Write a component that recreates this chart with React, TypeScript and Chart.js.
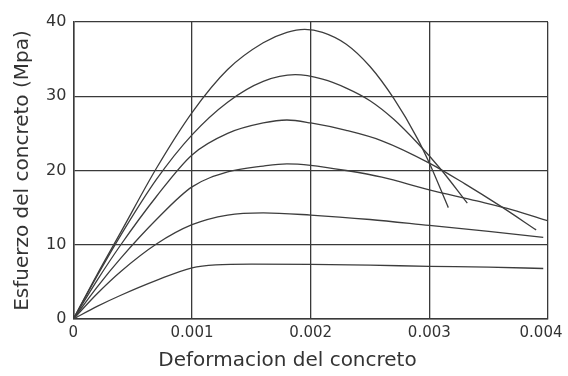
import React, { useEffect, useRef } from 'react';
import { Chart, registerables } from 'chart.js';

Chart.register(...registerables);

const X_TICK_LABELS = ['0', '0.001', '0.002', '0.003', '0.004'];
const Y_TICK_LABELS = ['0', '10', '20', '30', '40'];
const X_TITLE = 'Deformacion del concreto';
const Y_TITLE = 'Esfuerzo del concreto (Mpa)';

const STRAIN_A = [0, 0.0002, 0.0004, 0.0007, 0.001, 0.0013, 0.0016, 0.0018, 0.00195, 0.0021, 0.0023, 0.0025, 0.0027, 0.0029, 0.003, 0.00316];
const STRESS_A = [0, 6, 11.7, 20.3, 27.8, 33.6, 37.2, 38.6, 39.0, 38.6, 37.0, 34.0, 29.7, 24.3, 21.0, 15.0];

const STRAIN_B = [0, 0.0002, 0.0004, 0.0007, 0.001, 0.0013, 0.0016, 0.00187, 0.0021, 0.0023, 0.0025, 0.0027, 0.0029, 0.0031, 0.00332];
const STRESS_B = [0, 5.8, 11.3, 18.8, 24.8, 29.2, 32.0, 32.9, 32.3, 31.1, 29.4, 26.9, 23.7, 20.1, 15.6];

const STRAIN_C = [0, 0.0002, 0.0004, 0.0007, 0.001, 0.0013, 0.0016, 0.0018, 0.002, 0.0023, 0.0026, 0.003, 0.0033, 0.0036, 0.0039];
const STRESS_C = [0, 5.2, 10, 16.5, 22.1, 25.0, 26.4, 26.8, 26.4, 25.4, 24.0, 21.0, 18.2, 15.2, 12.0];

const STRAIN_D = [0, 0.0002, 0.0004, 0.0007, 0.001, 0.0013, 0.0016, 0.0018, 0.002, 0.0023, 0.0026, 0.003, 0.0034, 0.0037, 0.004];
const STRESS_D = [0, 4.3, 8.2, 13.4, 17.8, 19.8, 20.6, 20.9, 20.7, 20.0, 19.1, 17.4, 15.9, 14.7, 13.2];

const STRAIN_E = [0, 0.0002, 0.0004, 0.0007, 0.001, 0.0013, 0.0016, 0.002, 0.0025, 0.003, 0.0035, 0.00396];
const STRESS_E = [0, 3.4, 6.4, 10.1, 12.7, 14.0, 14.3, 14.0, 13.4, 12.6, 11.8, 11.0];

const STRAIN_F = [0, 0.0002, 0.0004, 0.0007, 0.001, 0.0012, 0.0015, 0.002, 0.0025, 0.003, 0.0035, 0.00396];
const STRESS_F = [0, 1.7, 3.2, 5.2, 6.9, 7.3, 7.4, 7.35, 7.25, 7.1, 7.0, 6.8];

const SERIES = [
  [STRAIN_A, STRESS_A],
  [STRAIN_B, STRESS_B],
  [STRAIN_C, STRESS_C],
  [STRAIN_D, STRESS_D],
  [STRAIN_E, STRESS_E],
  [STRAIN_F, STRESS_F],
];

const TEXT = '#333333';
const GRID = '#3a3a3a';
const FONT = 'DejaVu Sans';

// Nudges the last x tick label left so it stays inside the canvas, as in the reference.
const shiftLastXLabel = {
  id: 'shiftLastXLabel',
  beforeDraw(chart: any) {
    const scale = chart.scales.x;
    const items = scale.getLabelItems();
    const last = items[items.length - 1];
    if (last && !last._shifted) {
      last.options.translation[0] -= 7;
      last._shifted = true;
    }
  },
};

export default function App() {
  const ref = useRef<HTMLCanvasElement | null>(null);

  useEffect(() => {
    if (!ref.current) return;
    const chart = new Chart(ref.current, {
      type: 'line',
      data: {
        datasets: SERIES.map(([xs, ys]) => ({
          data: xs.map((x, i) => ({ x, y: ys[i] })),
          borderColor: '#3d3d3d',
          borderWidth: 1.3,
          pointRadius: 0,
          fill: false,
          cubicInterpolationMode: 'monotone' as const,
        })),
      },
      options: {
        animation: false,
        responsive: false,
        layout: { padding: { left: 11, top: 22, right: 4, bottom: 3 } },
        plugins: {
          legend: { display: false },
          tooltip: { enabled: false },
          title: {
            display: true,
            position: 'bottom',
            text: X_TITLE,
            color: TEXT,
            font: { family: FONT, size: 20, weight: 'normal' },
            padding: { top: 2, bottom: 0 },
          },
        },
        scales: {
          x: {
            type: 'linear',
            min: 0,
            max: 0.004,
            afterFit: (scale: any) => {
              scale.paddingRight = 20;
            },
            border: { color: GRID, width: 1.5 },
            grid: { color: GRID, lineWidth: 1.3, drawTicks: false },
            ticks: {
              stepSize: 0.001,
              color: TEXT,
              padding: 5,
              maxRotation: 0,
              font: { family: FONT, size: 15 },
              callback: (_v: any, i: number) => X_TICK_LABELS[i],
            },
          },
          y: {
            type: 'linear',
            min: 0,
            max: 40,
            border: { color: GRID, width: 1.5 },
            grid: { color: GRID, lineWidth: 1.3, drawTicks: false },
            ticks: {
              stepSize: 10,
              color: TEXT,
              padding: 7,
              font: { family: FONT, size: 16 },
              callback: (_v: any, i: number) => Y_TICK_LABELS[i],
            },
            title: {
              display: true,
              text: Y_TITLE,
              color: TEXT,
              font: { family: FONT, size: 20 },
              padding: { top: 0, bottom: 4 },
            },
          },
        },
      },
      plugins: [shiftLastXLabel],
    });
    return () => chart.destroy();
  }, []);

  return (
    <div style={{ position: 'fixed', left: 0, top: 0, width: 568, height: 376, background: '#fff' }}>
      <canvas ref={ref} width={568} height={376} />
    </div>
  );
}
